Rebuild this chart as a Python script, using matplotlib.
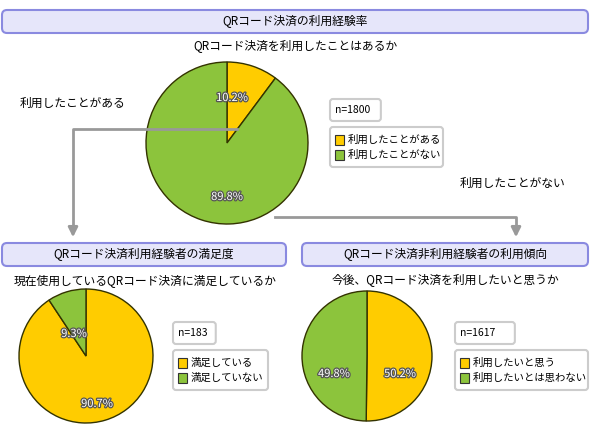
import matplotlib
matplotlib.use("Agg")
import matplotlib.pyplot as plt
from matplotlib.patches import FancyBboxPatch, Rectangle
import matplotlib.patheffects as pe

plt.rcParams['font.family'] = ['Noto Sans CJK JP', 'DejaVu Sans']

main_title = "QRコード決済の利用経験率"
q1 = "QRコード決済を利用したことはあるか"
labels1 = ["利用したことがある", "利用したことがない"]
vals1 = [10.2, 89.8]
n1 = "n=1800"

title2 = "QRコード決済利用経験者の満足度"
q2 = "現在使用しているQRコード決済に満足しているか"
labels2 = ["満足している", "満足していない"]
vals2 = [90.7, 9.3]
n2 = "n=183"

title3 = "QRコード決済非利用経験者の利用傾向"
q3 = "今後、QRコード決済を利用したいと思うか"
labels3 = ["利用したいと思う", "利用したいとは思わない"]
vals3 = [50.2, 49.8]
n3 = "n=1617"

YEL, GRN, EDGE = "#ffcc00", "#8cc43c", "#333300"
W, H = 590, 433
fig = plt.figure(figsize=(W/100, H/100), dpi=100)
ax = fig.add_axes([0, 0, 1, 1])
ax.set_xlim(0, W); ax.set_ylim(H, 0); ax.axis('off')
ax.set_zorder(10)
ax.patch.set_alpha(0)

def header(x0, x1, y0, y1, text):
    ax.add_patch(FancyBboxPatch((x0, y0), x1-x0, y1-y0, boxstyle="round,pad=0,rounding_size=5",
                                fc="#e6e6fa", ec="#8a8ae0", lw=1.5))
    ax.text((x0+x1)/2, (y0+y1)/2, text, ha='center', va='center', fontsize=8.5)

header(2, 588, 10, 33, main_title)
ax.text(295, 47, q1, ha='center', va='center', fontsize=8.5)
header(2, 286, 243, 266, title2)
ax.text(145, 281, q2, ha='center', va='center', fontsize=8.5)
header(302, 588, 243, 266, title3)
ax.text(445, 281, q3, ha='center', va='center', fontsize=8.5)

def pie(cx, cy, r, vals, pcts_pos, counter):
    pax = fig.add_axes([(cx-r)/W, 1-(cy+r)/H, 2*r/W, 2*r/H])
    pax.pie(vals, colors=[YEL, GRN], startangle=90, counterclock=counter,
            wedgeprops=dict(edgecolor=EDGE, linewidth=1))
    pax.set_aspect('auto'); pax.set_xlim(-1, 1); pax.set_ylim(-1, 1)
    for v, (x, y) in zip(vals, pcts_pos):
        t = ax.text(x, y, f"{v:.1f}%", ha='center', va='center', fontsize=8, color='white', zorder=10)
        t.set_path_effects([pe.withStroke(linewidth=1.8, foreground='#555555')])

def legend(x0, y0, w, ntext, labels):
    ax.add_patch(FancyBboxPatch((x0, y0), w*0.45 if len(ntext) < 7 else 50, 22, boxstyle="round,pad=0,rounding_size=3",
                                fc='white', ec='#cccccc', lw=1.5))
    ax.text(x0+5, y0+11, ntext, va='center', fontsize=7.5)
    ax.add_patch(FancyBboxPatch((x0, y0+28), w, 40, boxstyle="round,pad=0,rounding_size=3",
                                fc='white', ec='#cccccc', lw=1.5))
    for i, (lab, c) in enumerate(zip(labels, [YEL, GRN])):
        yy = y0+41+i*15
        ax.add_patch(Rectangle((x0+5, yy-5), 9, 10, fc=c, ec='#333333', lw=0.8))
        ax.text(x0+18, yy, lab, va='center', fontsize=7.5)

pie(227, 143, 81, vals1, [(232, 98), (227, 197)], False)
legend(330, 99, 113, n1, labels1)
pie(86, 356, 67, vals2, [(97, 404), (74, 334)], False)
legend(173, 322, 95, n2, labels2)
pie(367, 356, 65, vals3, [(400, 374), (334, 374)], False)
legend(455, 322, 133, n3, labels3)

# connectors
gray = '#999999'
ax.plot([237, 73, 73], [129, 129, 228], color=gray, lw=2, zorder=5)
ax.annotate('', xy=(73, 240), xytext=(73, 226),
            arrowprops=dict(arrowstyle='-|>', color=gray, lw=2, mutation_scale=14))
ax.plot([275, 516, 516], [217, 217, 228], color=gray, lw=2, zorder=5)
ax.annotate('', xy=(516, 240), xytext=(516, 226),
            arrowprops=dict(arrowstyle='-|>', color=gray, lw=2, mutation_scale=14))
ax.text(20, 103, "利用したことがある", va='center', fontsize=8.5)
ax.text(460, 183, "利用したことがない", va='center', fontsize=8.5)

fig.savefig("out.png", dpi=100)
